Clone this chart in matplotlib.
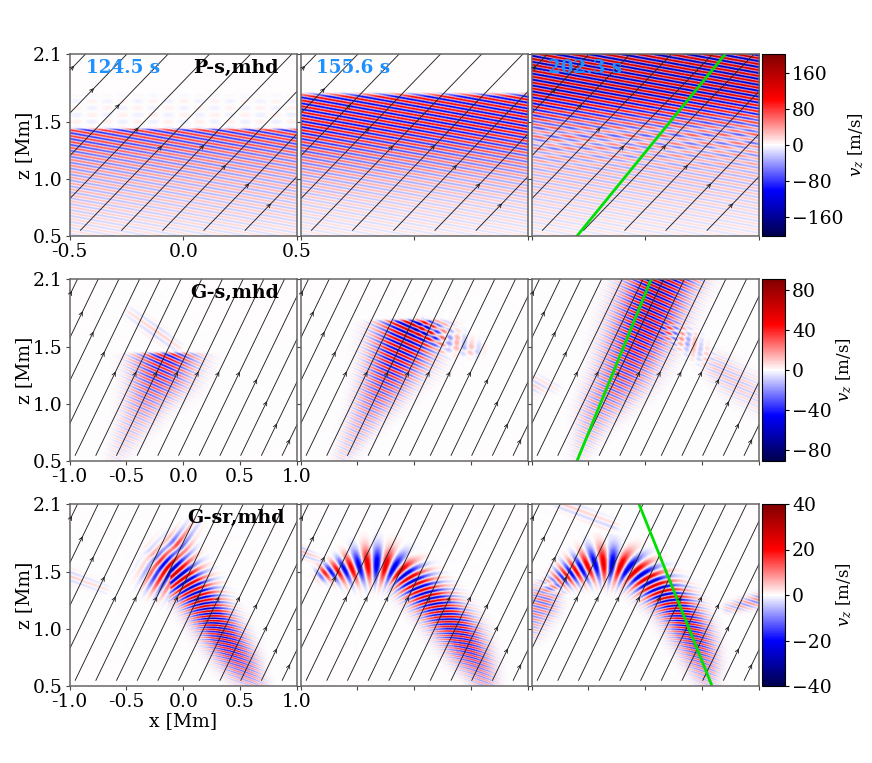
"""Wave packets in a magnetised atmosphere: v_z snapshots at three times."""

import numpy as np
from matplotlib import pyplot as plt

plt.rcParams["font.family"] = "DejaVu Serif"
plt.rcParams["mathtext.fontset"] = "dejavuserif"

TIMES = ["124.5 s", "155.6 s", "202.3 s"]
CASES = ["P-s,mhd", "G-s,mhd", "G-sr,mhd"]
VMAX = [203, 91, 40]
CBAR_TICKS = [[-160, -80, 0, 80, 160], [-80, -40, 0, 40, 80], [-40, -20, 0, 20, 40]]
X_TICKS = [[-0.5, 0.0, 0.5], [-1.0, -0.5, 0.0, 0.5, 1.0], [-1.0, -0.5, 0.0, 0.5, 1.0]]
Z_TICKS = [0.5, 1.0, 1.5, 2.1]

# green rays in the last column (x bottom/top, z bottom/top)
RAY_X = [[-0.30, 0.352], [-0.60, 0.053], [0.587, -0.055]]
RAY_Z = [0.5, 2.1]

# field lines: x where each line crosses z=0.55, and the height of its arrow
P_LINE_X0 = [-1.178, -0.996, -0.815, -0.633, -0.452, -0.271, -0.090, 0.091, 0.272]
P_ARROW_Z = [1.98, 1.783, 1.642, 1.437, 1.278, 1.284, 1.108, 0.946, 0.77]
G_LINE_X0 = [-1.678, -1.496, -1.314, -1.132, -0.95, -0.768, -0.586, -0.404, -0.222,
             -0.04, 0.142, 0.324, 0.506, 0.688, 0.87]
G_ARROW_Z = [1.98, 1.80, 1.62, 1.445, 1.27, 1.27, 1.27, 1.27, 1.27, 1.27, 1.27,
             1.205, 1.01, 0.814, 0.676]
LINE_SLOPE = 2.07

# Row 1: estimated amplitude against height for the plane wave in each frame.
# The stripes themselves are not readable cell by cell, so they are synthesised
# from these read-off envelopes.
P_Z = [0.5, 0.8, 1.0, 1.2, 1.3, 1.43, 1.445, 1.72, 1.76, 2.1]
P_AMP = [
    [12, 26, 38, 58, 76, 90, 0, 0, 0, 0],
    [10, 22, 38, 65, 85, 105, 108, 115, 0, 0],
    [10, 20, 30, 38, 42, 55, 58, 135, 145, 160],
]
P_CHECK = [
    [0, 0, 0, 0, 0, 0, 7, 5, 0, 0],
    [0, 0, 0, 0, 0, 0, 0, 0, 0, 0],
    [0, 0, 0, 10, 20, 20, 12, 0, 0, 0],
]
P_LAM = 0.052
P_TILT = -0.36

# Rows 2 and 3: wave packets along centrelines
GS1_BEAM = dict(x=[-0.6, -0.425, -0.33, -0.22, -0.15], z=[0.53, 0.86, 1.05, 1.27, 1.45],
                hw=[0.1, 0.15, 0.18, 0.24, 0.25], amp=[5, 15, 26, 42, 50],
                lam=[0.045, 0.045, 0.046, 0.048, 0.05], ang=[66, 66, 66, 66, 66], top=1.45)
GS1_CAP = dict(x=[-0.47, -0.25, -0.06], z=[1.8, 1.64, 1.5], hw=[0.06, 0.07, 0.05],
               amp=[5, 9, 6], lam=[0.08, 0.08, 0.08], ang=[55, 55, 55])
GS2_BEAM = dict(x=[-0.642, -0.437, -0.276, -0.13, -0.04], z=[0.52, 0.888, 1.18, 1.475, 1.66],
                hw=[0.09, 0.14, 0.19, 0.24, 0.24], amp=[7, 20, 38, 58, 68],
                lam=[0.045, 0.045, 0.047, 0.055, 0.06], ang=[66, 66, 66, 66, 66], top=1.74)
GS2_FAN = dict(x=[0.05, 0.2, 0.35, 0.55], z=[1.66, 1.6, 1.55, 1.48], hw=[0.08, 0.09, 0.09, 0.07],
               amp=[15, 14, 14, 8], lam=[0.08, 0.12, 0.13, 0.13], ang=[150, 170, 175, 170])
GS2_FAN2 = dict(x=[0.1, 0.3, 0.5], z=[1.58, 1.5, 1.46], hw=[0.06, 0.06, 0.05],
                amp=[5, 6, 5], lam=[0.06, 0.06, 0.06], ang=[75, 70, 70])
GS3_BEAM = dict(x=[-0.601, -0.425, -0.19, -0.015, 0.12, 0.19], z=[0.52, 0.946, 1.298, 1.709, 2.09, 2.2],
                hw=[0.09, 0.16, 0.22, 0.25, 0.25, 0.25], amp=[5, 22, 40, 60, 68, 68],
                lam=[0.045, 0.045, 0.045, 0.046, 0.048, 0.048], ang=[66, 66, 66, 66, 66, 66])
GS3_FAN = dict(x=[0.2, 0.4, 0.6], z=[1.65, 1.53, 1.35], hw=[0.08, 0.09, 0.1],
               amp=[14, 14, 0], lam=[0.12, 0.12, 0.12], ang=[170, 170, 170])
GS3_TAIL = dict(x=[0.45, 0.62, 0.78, 1.0], z=[1.48, 1.33, 1.2, 1.05], hw=[0.1, 0.12, 0.14, 0.14],
                amp=[0, 12, 12, 8], lam=[0.048, 0.048, 0.048, 0.048], ang=[68, 68, 68, 68])
GS3_LEFT = dict(x=[-1.0, -0.8], z=[1.17, 1.15], hw=[0.09, 0.06], amp=[9, 4],
                lam=[0.07, 0.07], ang=[60, 60])

GSR1_ARC = dict(x=[-0.206, -0.118, 0.088, 0.235, 0.382, 0.529, 0.647],
                z=[1.45, 1.533, 1.331, 1.122, 0.888, 0.653, 0.5],
                hw=[0.14, 0.18, 0.15, 0.15, 0.15, 0.14, 0.1],
                amp=[18, 28, 28, 28, 25, 15, 6],
                lam=[0.1, 0.09, 0.06, 0.042, 0.035, 0.033, 0.033],
                ang=[150, 145, 118, 92, 76, 70, 68])
GSR1_TIP = dict(x=[-0.05, 0.08], z=[1.75, 1.9], hw=[0.09, 0.07], amp=[12, 4],
                lam=[0.1, 0.1], ang=[145, 145])
GSR1_FAINT = dict(x=[-1.0, -0.7], z=[1.46, 1.35], hw=[0.06, 0.05], amp=[4, 2],
                  lam=[0.07, 0.07], ang=[70, 70])
GSR2_ARC = dict(x=[-0.816, -0.611, -0.377, -0.173, -0.07, 0.166, 0.375, 0.5, 0.578, 0.64],
                z=[1.489, 1.519, 1.577, 1.533, 1.46, 1.23, 0.99, 0.78, 0.64, 0.45],
                hw=[0.06, 0.12, 0.15, 0.14, 0.14, 0.15, 0.16, 0.15, 0.13, 0.11],
                amp=[18, 22, 23, 23, 25, 27, 26, 20, 13, 6],
                lam=[0.09, 0.12, 0.17, 0.14, 0.085, 0.052, 0.038, 0.034, 0.033, 0.033],
                ang=[225, 205, 180, 160, 135, 102, 82, 74, 70, 70])
GSR2_FAINT = dict(x=[-1.0, -0.85], z=[1.68, 1.6], hw=[0.05, 0.04], amp=[6, 3],
                  lam=[0.06, 0.06], ang=[70, 70])
GSR3_ARC = dict(x=[-0.85, -0.7, -0.403, -0.104, 0.134, 0.284, 0.433, 0.52, 0.55, 0.6],
                z=[1.38, 1.475, 1.592, 1.519, 1.328, 1.181, 0.917, 0.653, 0.52, 0.42],
                hw=[0.08, 0.1, 0.15, 0.14, 0.14, 0.15, 0.15, 0.13, 0.1, 0.1],
                amp=[5, 22, 23, 24, 27, 27, 23, 12, 6, 3],
                lam=[0.07, 0.08, 0.16, 0.13, 0.068, 0.045, 0.035, 0.033, 0.033, 0.033],
                ang=[230, 225, 180, 150, 112, 90, 76, 70, 68, 68])
GSR3_LEFT = dict(x=[-1.05, -0.9, -0.75], z=[1.05, 1.25, 1.42], hw=[0.14, 0.14, 0.1], amp=[9, 13, 0],
                 lam=[0.045, 0.045, 0.045], ang=[75, 75, 75])
GSR3_RIGHT = dict(x=[0.72, 1.0], z=[1.18, 1.25], hw=[0.05, 0.06], amp=[5, 11],
                  lam=[0.05, 0.05], ang=[72, 72])
GSR3_TOP = dict(x=[-0.75, -0.3], z=[2.1, 1.9], hw=[0.06, 0.06], amp=[4, 3],
                lam=[0.08, 0.08], ang=[70, 70])

PACKETS = [
    [[GS1_BEAM, GS1_CAP], [GS2_BEAM, GS2_FAN, GS2_FAN2], [GS3_BEAM, GS3_FAN, GS3_TAIL, GS3_LEFT]],
    [[GSR1_ARC, GSR1_TIP, GSR1_FAINT], [GSR2_ARC, GSR2_FAINT],
     [GSR3_ARC, GSR3_LEFT, GSR3_RIGHT, GSR3_TOP]],
]

# pixel layout of the panels
FIG_W, FIG_H = 872, 763
COL_LEFT = [69.5, 300.5, 531.5]
COL_W = 227.5
ROW_TOP = [54, 279, 504]
ROW_H = 182
CASE_LEFT = [193, 190, 187]


def smooth_along(values, n_dense, width):
    dense = np.interp(np.linspace(0, len(values) - 1, n_dense), np.arange(len(values)), values)
    pad = width // 2
    padded = np.r_[np.full(pad, dense[0]), dense, np.full(pad, dense[-1])]
    return np.convolve(padded, np.ones(width) / width, mode="valid")


def packet_field(xg, zg, pk):
    n_dense = 240
    px, pz = smooth_along(pk["x"], n_dense, 21), smooth_along(pk["z"], n_dense, 21)
    hw, amp = smooth_along(pk["hw"], n_dense, 21), smooth_along(pk["amp"], n_dense, 21)
    ang = np.radians(pk["ang"])
    kvec_x = 2 * np.pi / np.array(pk["lam"]) * np.cos(ang)
    kvec_z = 2 * np.pi / np.array(pk["lam"]) * np.sin(ang)
    kx, kz = smooth_along(kvec_x, n_dense, 21), smooth_along(kvec_z, n_dense, 21)
    # the cross-beam part of the phase uses a slowly varying k, so that the
    # stripe spacing stays even across the width of a curved beam
    off_kx, off_kz = smooth_along(kvec_x, n_dense, 81), smooth_along(kvec_z, n_dense, 81)
    phase = np.r_[0, np.cumsum(kx[:-1] * np.diff(px) + kz[:-1] * np.diff(pz))]

    out = np.zeros((zg.size, xg.size))
    for j, z in enumerate(zg):
        nearest = np.argmin((xg[:, None] - px) ** 2 + (z - pz) ** 2, axis=1)
        ddx = xg - px[nearest]
        ddz = z - pz[nearest]
        env = amp[nearest] * np.exp(-(ddx**2 + ddz**2) / hw[nearest] ** 2)
        out[j] = env * np.cos(phase[nearest] + off_kx[nearest] * ddx + off_kz[nearest] * ddz)
    if "top" in pk:
        out *= 1 / (1 + np.exp((zg[:, None] - pk["top"]) / 0.006))
    return out


def plane_field(xg, zg, col):
    xx, zz = np.meshgrid(xg, zg)
    amp = np.interp(zz, P_Z, P_AMP[col])
    check = np.interp(zz, P_Z, P_CHECK[col])
    stripes = amp * np.cos(2 * np.pi * (zz - P_TILT * xx) / P_LAM)
    blobs = check * np.cos(2 * np.pi * xx / 0.135) * np.cos(2 * np.pi * zz / 0.12)
    return stripes + blobs


def draw_lines(ax, row):
    x0s, arrows = (P_LINE_X0, P_ARROW_Z) if row == 0 else (G_LINE_X0, G_ARROW_Z)
    for x0, za in zip(x0s, arrows):
        ax.plot([x0, x0 + (2.3 - 0.55) / LINE_SLOPE], [0.55, 2.3], color="#222222", lw=0.65)
        xa = x0 + (za - 0.55) / LINE_SLOPE
        ax.annotate("", xy=(xa + 0.008, za + 0.008 * LINE_SLOPE), xytext=(xa - 0.004, za - 0.004 * LINE_SLOPE),
                    arrowprops=dict(arrowstyle="->", color="#222222", lw=0.6, mutation_scale=6.5,
                                    shrinkA=0, shrinkB=0))


def add_axes_px(fig, left, top, width, height):
    return fig.add_axes([left / FIG_W, 1 - (top + height) / FIG_H, width / FIG_W, height / FIG_H])


def main():
    fig = plt.figure(figsize=(FIG_W / 100, FIG_H / 100), dpi=100)
    for row in range(3):
        half = 0.5 if row == 0 else 1.0
        # coarse grid and bilinear drawing soften the stripes like the reference
        xg = np.linspace(-half, half, 300)
        zg = np.linspace(0.5, 2.1, 260)
        for col in range(3):
            ax = add_axes_px(fig, COL_LEFT[col], ROW_TOP[row], COL_W, ROW_H)
            if row == 0:
                field = plane_field(xg, zg, col)
            else:
                field = sum(packet_field(xg, zg, pk) for pk in PACKETS[row - 1][col])
            im = ax.imshow(field, origin="lower", extent=[-half, half, 0.5, 2.1], aspect="auto",
                           cmap="seismic", vmin=-VMAX[row], vmax=VMAX[row], interpolation="bilinear")
            draw_lines(ax, row)
            ax.set_xlim(-half, half)
            ax.set_ylim(0.5, 2.1)
            ax.set_xticks(X_TICKS[row])
            ax.set_yticks(Z_TICKS)
            ax.tick_params(length=3, width=0.8, color="#444444", labelsize=13.5, pad=2)
            for spine in ax.spines.values():
                spine.set_linewidth(1.1)
                spine.set_color("#666666")
            if col == 0:
                ax.set_xticklabels([f"{v:.1f}" for v in X_TICKS[row]])
                ax.set_yticklabels([f"{v:.1f}" for v in Z_TICKS])
                ax.set_ylabel("z [Mm]", fontsize=13.5, labelpad=0)
                if row == 2:
                    ax.set_xlabel("x [Mm]", fontsize=13.5, labelpad=1)
            else:
                ax.set_xticklabels([])
                ax.set_yticklabels([])
            if row == 0:
                ax.text(16 / COL_W, 0.893, TIMES[col], transform=ax.transAxes,
                        color="dodgerblue", fontsize=13.2, fontweight="bold", ha="left", va="baseline")
            if col == 0:
                ax.text((CASE_LEFT[row] - COL_LEFT[0]) / COL_W, 0.893, CASES[row],
                        transform=ax.transAxes, color="k", fontsize=13.7, fontweight="bold",
                        ha="left", va="baseline")
            if col == 2:
                ax.plot(RAY_X[row], RAY_Z, color="#00e000", lw=2)

        cax = add_axes_px(fig, 762, ROW_TOP[row], 23, ROW_H)
        cbar = fig.colorbar(im, cax=cax, ticks=CBAR_TICKS[row])
        cbar.ax.tick_params(length=3, width=0.8, labelsize=13.5, pad=2)
        cbar.outline.set_linewidth(0.8)
        cbar.set_label(r"$v_z$ [m/s]", fontsize=12, labelpad=2)

    fig.savefig("out.png", dpi=100)


if __name__ == "__main__":
    main()
